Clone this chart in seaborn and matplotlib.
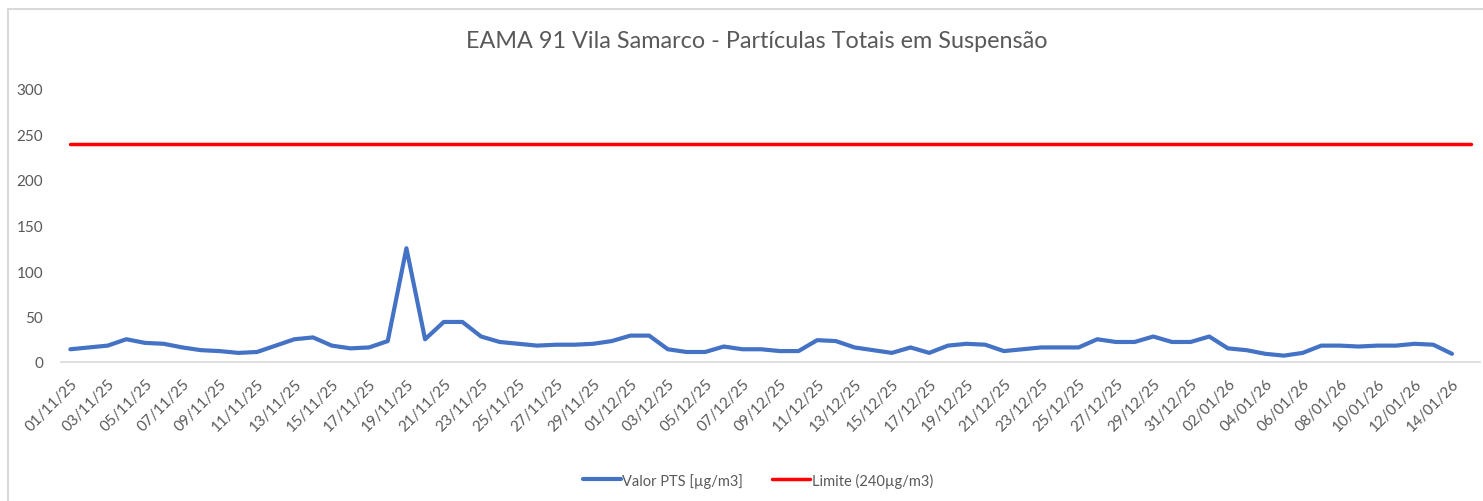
import matplotlib
matplotlib.use("Agg")
import matplotlib.pyplot as plt
import matplotlib.patches as patches
import numpy as np
import pandas as pd
import seaborn as sns

TITLE = "EAMA 91 Vila Samarco - Partículas Totais em Suspensão"

# one category per day, 01/11/25 .. 15/01/26 (last day has only the limit)
dates = pd.date_range("2025-11-01", "2026-01-15", freq="D")

pts_values = [
    14, 16, 18, 25, 21, 20, 16, 13, 12, 10, 11, 18, 25, 27, 18, 15, 16, 23,
    125, 25, 44, 44, 28, 22, 20, 18, 19, 19, 20, 23, 29, 29, 14, 11, 11, 17,
    14, 14, 12, 12, 24, 23, 16, 13, 10, 16, 10, 18, 20, 19, 12, 14, 16, 16,
    16, 25, 22, 22, 28, 22, 22, 28, 15, 13, 9, 7, 10, 18, 18, 17, 18, 18,
    20, 19, 9,
]
limit_value = 240

y_ticks = [0, 50, 100, 150, 200, 250, 300]

BLUE = "#4472C4"
RED = "#FF0000"
GREY_TXT = "#595959"
GREY_LINE = "#D9D9D9"

pos = np.arange(len(dates))
pts = np.full(len(dates), np.nan)
pts[:len(pts_values)] = pts_values
df = pd.DataFrame({"pos": pos, "pts": pts, "lim": [limit_value] * len(dates)})

sns.set_style("white")
plt.rcParams["font.family"] = ["Lato", "DejaVu Sans"]

fig = plt.figure(figsize=(14.83, 5.02), dpi=100)
W, H = 1483, 502
ax = fig.add_axes([61 / W, (H - 363) / H, (1480 - 61) / W, (363 - 90) / H])

sns.lineplot(data=df.dropna(), x="pos", y="pts", ax=ax, color=BLUE, linewidth=3.0,
             label="Valor PTS [µg/m3]", legend=False)
sns.lineplot(data=df, x="pos", y="lim", ax=ax, color=RED, linewidth=2.5,
             label="Limite (240µg/m3)", legend=False)

ax.set_xlim(-0.5, len(dates) - 0.5)
ax.set_ylim(0, 300)
ax.set_yticks(y_ticks)
ax.set_yticklabels([str(v) for v in y_ticks], color=GREY_TXT, fontsize=11)

labels = [d.strftime("%d/%m/%y") for d in dates]
ax.set_xticks(pos[::2])
ax.set_xticklabels(labels[::2], rotation=45, ha="right", rotation_mode="anchor",
                   color=GREY_TXT, fontsize=11)
ax.set_xticks(np.arange(-0.5, len(dates), 2), minor=True)
ax.tick_params(axis="x", which="major", length=0, pad=10)
ax.tick_params(axis="x", which="minor", length=5, color=GREY_LINE, width=1)
ax.tick_params(axis="y", length=0, pad=13)
ax.set_xlabel("")
ax.set_ylabel("")

for s in ["top", "right", "left"]:
    ax.spines[s].set_visible(False)
ax.spines["bottom"].set_color(GREY_LINE)
ax.spines["bottom"].set_linewidth(1.2)

fig.text(757 / W, 1 - 42 / H, TITLE, ha="center", va="center", fontsize=16.8,
         color=GREY_TXT)

handles, lbls = ax.get_legend_handles_labels()
fig.legend(handles, lbls, loc="center", bbox_to_anchor=(758 / W, 1 - 481 / H),
           ncol=2, frameon=False, fontsize=10.5, labelcolor=GREY_TXT,
           handlelength=2.6, handletextpad=0.1, columnspacing=2.0)

fig.patches.append(patches.Rectangle((8 / W, -0.05), 1.1, 1.05 - 10 / H,
                                     transform=fig.transFigure, fill=False,
                                     edgecolor=GREY_LINE, linewidth=1.5))

fig.savefig("out.png", dpi=100)
